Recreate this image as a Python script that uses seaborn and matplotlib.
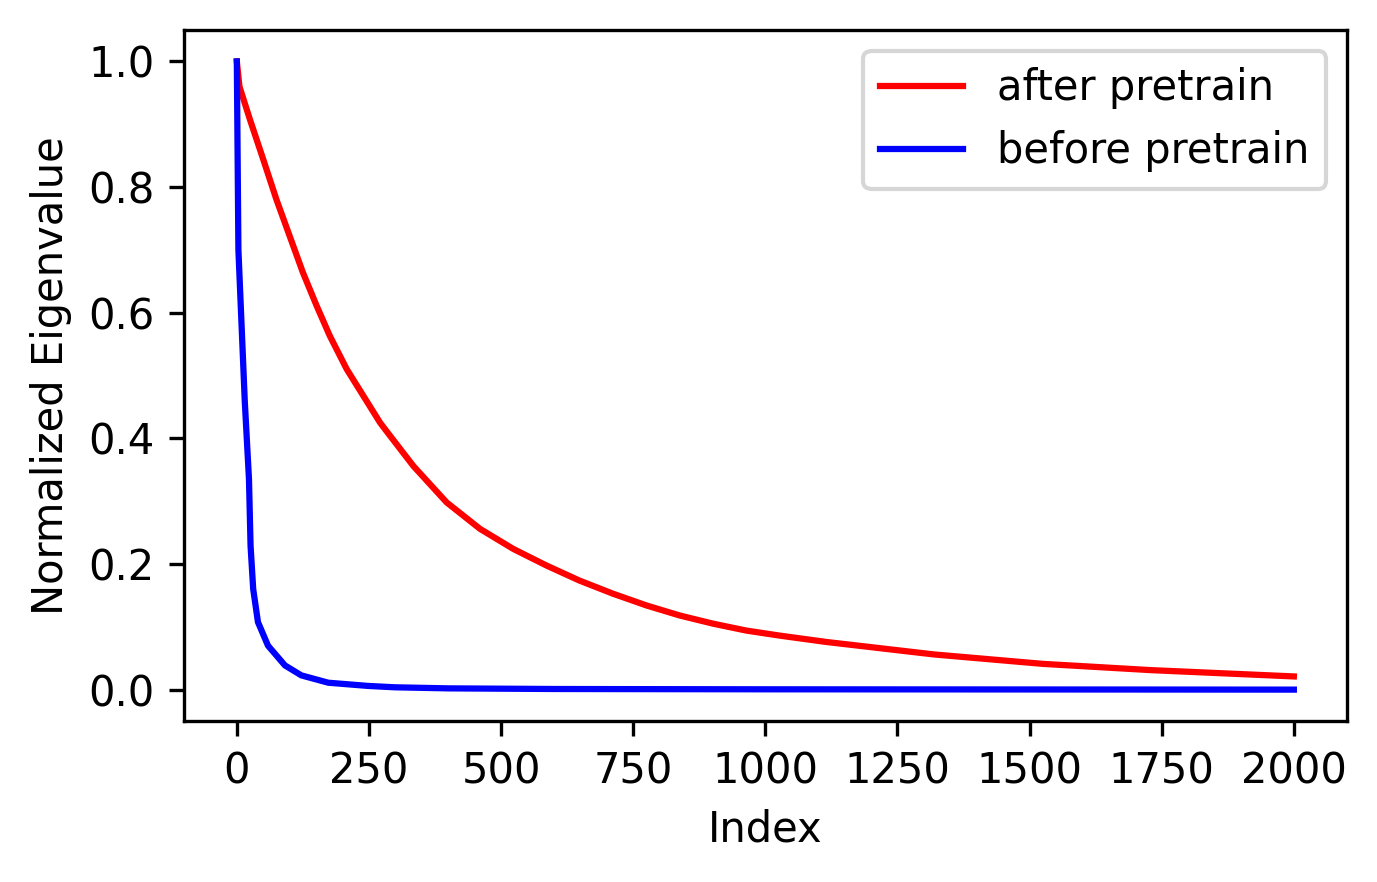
import matplotlib
matplotlib.use("Agg")
import matplotlib.pyplot as plt
import pandas as pd
import seaborn as sns

# Eigenvalue spectra (index -> normalized eigenvalue)
after_idx = [0, 5, 25, 50, 75, 100, 125, 151, 176, 208, 251, 271, 290, 334,
             397, 460, 523, 586, 648, 712, 775, 838, 901, 964, 1027, 1114,
             1319, 1525, 1730, 2000]
after_val = [1.0, 0.960, 0.907, 0.844, 0.780, 0.722, 0.664, 0.611, 0.563, 0.510,
             0.452, 0.425, 0.404, 0.356, 0.298, 0.256, 0.224, 0.1975, 0.1737,
             0.1526, 0.134, 0.118, 0.105, 0.094, 0.086, 0.076, 0.056, 0.041,
             0.031, 0.021]

before_idx = [0, 2, 3, 9, 15, 23, 26, 31, 40, 59, 91, 122, 173, 248, 299,
              400, 600, 1000, 2000]
before_val = [1.0, 0.80, 0.70, 0.58, 0.46, 0.335, 0.229, 0.160, 0.1075, 0.070,
              0.0386, 0.0227, 0.011, 0.0059, 0.0037, 0.002, 0.001, 0.0005, 0.0]

df_after = pd.DataFrame({"index": after_idx, "value": after_val})
df_before = pd.DataFrame({"index": before_idx, "value": before_val})

fig, ax = plt.subplots(figsize=(4.59, 2.94), dpi=300)

sns.lineplot(data=df_after, x="index", y="value", color="red",
             label="after pretrain", ax=ax, linewidth=1.5)
sns.lineplot(data=df_before, x="index", y="value", color="blue",
             label="before pretrain", ax=ax, linewidth=1.5)

ax.set_xlabel("Index")
ax.set_ylabel("Normalized Eigenvalue")
ax.set_xticks([0, 250, 500, 750, 1000, 1250, 1500, 1750, 2000])
ax.legend(loc="upper right")

fig.subplots_adjust(left=0.1336, right=0.978, top=0.966, bottom=0.1825)
fig.savefig("out.png", dpi=300)
